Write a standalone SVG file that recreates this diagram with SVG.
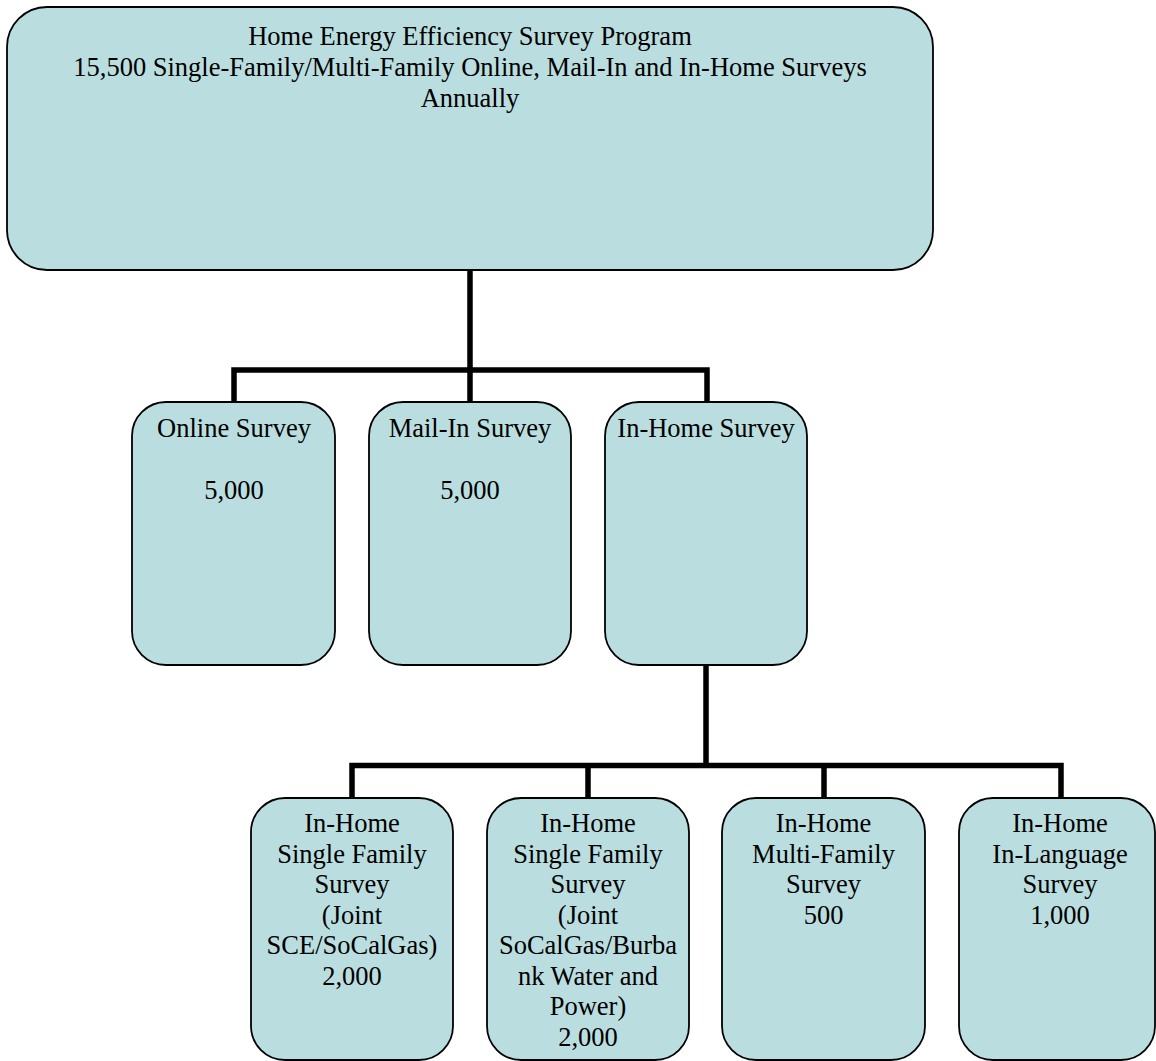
<svg xmlns="http://www.w3.org/2000/svg" width="1156" height="1061" viewBox="0 0 1156 1061">
<style>
.box{fill:#badedf;stroke:#000;stroke-width:1.8}
.t{font-family:"Liberation Serif","Times New Roman",serif;font-size:26.5px;fill:#000;text-anchor:middle}
.c{fill:none;stroke:#000;stroke-width:5.5;stroke-linecap:square}
</style>
<rect width="1156" height="1061" fill="#fff"/>
<g id="connectors">
<path class="c" d="M470 271 V370 M234 402 V370 H707 V402 M470 370 V402"/>
<path class="c" d="M706 666 V765.5 M352 798 V765.5 H1061 V798 M588 765.5 V798 M824 765.5 V798"/>
</g>
<g id="root">
<rect class="box" x="7" y="7" width="926" height="263" rx="40" ry="40"/>
<text class="t" x="470" y="45">Home Energy Efficiency Survey Program</text>
<text class="t" x="470" y="76">15,500 Single-Family/Multi-Family Online, Mail-In and In-Home Surveys</text>
<text class="t" x="470" y="107">Annually</text>
</g>
<g id="online">
<rect class="box" x="132" y="402" width="203" height="263" rx="34" ry="34"/>
<text class="t" x="234" y="437">Online Survey</text>
<text class="t" x="234" y="499">5,000</text>
</g>
<g id="mailin">
<rect class="box" x="369" y="402" width="202" height="263" rx="34" ry="34"/>
<text class="t" x="470" y="437">Mail-In Survey</text>
<text class="t" x="470" y="499">5,000</text>
</g>
<g id="inhome">
<rect class="box" x="605" y="402" width="202" height="263" rx="34" ry="34"/>
<text class="t" x="706" y="437">In-Home Survey</text>
</g>
<g id="sf-sce">
<rect class="box" x="251" y="798" width="202" height="262" rx="34" ry="34"/>
<text class="t" x="352" y="832">In-Home</text>
<text class="t" x="352" y="862.5">Single Family</text>
<text class="t" x="352" y="893">Survey</text>
<text class="t" x="352" y="923.5"> (Joint</text>
<text class="t" x="352" y="954">SCE/SoCalGas)</text>
<text class="t" x="352" y="984.5">2,000</text>
</g>
<g id="sf-burbank">
<rect class="box" x="487" y="798" width="202" height="262" rx="34" ry="34"/>
<text class="t" x="588" y="832">In-Home</text>
<text class="t" x="588" y="862.5">Single Family</text>
<text class="t" x="588" y="893">Survey</text>
<text class="t" x="588" y="923.5"> (Joint</text>
<text class="t" x="588" y="954">SoCalGas/Burba</text>
<text class="t" x="588" y="984.5">nk Water and</text>
<text class="t" x="588" y="1015">Power)</text>
<text class="t" x="588" y="1045.5">2,000</text>
</g>
<g id="multifamily">
<rect class="box" x="722" y="798" width="203" height="262" rx="34" ry="34"/>
<text class="t" x="823.5" y="832">In-Home</text>
<text class="t" x="823.5" y="862.5">Multi-Family</text>
<text class="t" x="823.5" y="893">Survey</text>
<text class="t" x="823.5" y="923.5">500</text>
</g>
<g id="inlanguage">
<rect class="box" x="959" y="798" width="196" height="262" rx="34" ry="34"/>
<text class="t" x="1060" y="832">In-Home</text>
<text class="t" x="1060" y="862.5">In-Language</text>
<text class="t" x="1060" y="893">Survey</text>
<text class="t" x="1060" y="923.5">1,000</text>
</g>
</svg>
